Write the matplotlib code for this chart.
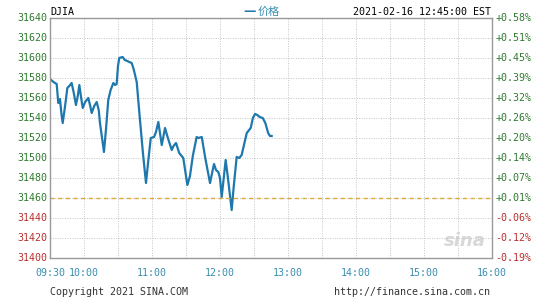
import numpy as np
import matplotlib
matplotlib.use("Agg")
import matplotlib.pyplot as plt

# minutes after 09:30 and DJIA price
minutes = [0, 2, 4.4, 5.9, 7.3, 8.8, 10, 11.2, 13.2, 15.3, 17, 19.1, 21, 22.9, 24.5, 25.9,
           27.5, 28.9, 31, 33.8, 35.5, 36.8, 39, 41.2, 43, 44.1, 47.6, 49.5, 51.4, 53.5,
           55.9, 57.5, 58.8, 60, 61.1, 64.1, 66, 68.2, 70, 72.1, 74, 76.5, 79.4, 82,
           84.7, 86.5, 88.9, 91.8, 93.5, 95.6, 98.6, 101.5, 104, 107.4, 109, 111.2, 114,
           117.6, 121.2, 123.5, 126, 129.4, 131, 133.9, 137, 141.2, 144.7, 146.5, 148.5,
           150, 151.5, 155, 157, 160.3, 162, 164.7, 167, 169.1, 173.6, 177.1, 179,
           180.9, 183, 185, 187.7, 190, 192.5, 194.1, 195.6]
price = [31579, 31577, 31575, 31574, 31555, 31559, 31545, 31535, 31551, 31570, 31572,
         31575, 31565, 31553, 31562, 31573, 31560, 31550, 31556, 31560, 31552, 31545,
         31552, 31556, 31548, 31535, 31506, 31530, 31558, 31568, 31575, 31573, 31574,
         31592, 31600, 31601, 31598, 31597, 31596, 31595, 31588, 31576, 31538, 31505,
         31475, 31495, 31520, 31521, 31526, 31536, 31513, 31530, 31520, 31508, 31512,
         31515, 31505, 31500, 31473, 31482, 31502, 31521, 31520, 31521, 31500, 31475,
         31494, 31488, 31486, 31480, 31461, 31498, 31480, 31448, 31470, 31501, 31500,
         31503, 31525, 31530, 31540, 31544, 31543, 31541, 31540, 31535, 31525, 31522, 31522]

prev_close = 31460
left_ticks = [31400, 31420, 31440, 31460, 31480, 31500, 31520, 31540, 31560, 31580, 31600, 31620, 31640]
pct_labels = ["-0.19%", "-0.12%", "-0.06%", "+0.01%", "+0.07%", "+0.14%", "+0.20%",
              "+0.26%", "+0.32%", "+0.39%", "+0.45%", "+0.51%", "+0.58%"]
time_labels = ["09:30", "10:00", "11:00", "12:00", "13:00", "14:00", "15:00", "16:00"]
time_pos = [0, 30, 90, 150, 210, 270, 330, 390]

green = "#2f7a2f"
red = "#b8302e"
teal = "#3a8db0"
line_c = "#1f78ad"
mono = "DejaVu Sans Mono"
fs = 7.2

fig = plt.figure(figsize=(5.45, 3.0), dpi=100)
ax = fig.add_axes([50/545, 1-258/300, 442/545, 240/300])

ax.plot(minutes, price, color=line_c, lw=1.6, solid_joinstyle="round")
ax.axhline(prev_close, color="#e0aa3a", lw=1, ls=(0, (3, 2.5)))

ax.set_xlim(0, 390)
ax.set_ylim(31400, 31640)
ax.set_xticks(np.arange(0, 391, 30))
ax.set_xticklabels([])
ax.set_yticks(left_ticks)
ax.set_yticklabels([])
ax.tick_params(length=0)
ax.grid(True, color="#c4c4c4", ls=(0, (1, 1.5)), lw=0.7)
for s in ax.spines.values():
    s.set_color("#999999")
    s.set_linewidth(1)

# left price labels and right percentage labels
for v, p in zip(left_ticks, pct_labels):
    c = green if v >= prev_close else red
    ax.text(-0.005, v, str(v), transform=ax.get_yaxis_transform(), ha="right",
            va="center", color=c, family=mono, fontsize=fs)
    ax.text(1.008, v, p, transform=ax.get_yaxis_transform(), ha="left",
            va="center", color=c, family=mono, fontsize=fs)

for t, lab in zip(time_pos, time_labels):
    ax.text(t, -15/240, lab, transform=ax.get_xaxis_transform(), ha="center",
            va="center", color=teal, family=mono, fontsize=fs)

# header and footer
fig.text(50/545, 1-12/300, "DJIA", ha="left", va="center", family=mono, fontsize=fs)
fig.text(243/545, 1-12/300, "\u2014", ha="left", va="center", color=line_c,
         fontsize=9, fontweight="bold")
fig.text(258/545, 1-12/300, "价格", ha="left", va="center", color=teal,
         family=["Noto Sans CJK SC", "DejaVu Sans"], fontsize=8)
fig.text(491/545, 1-12/300, "2021-02-16 12:45:00 EST", ha="right", va="center",
         family=mono, fontsize=fs)
fig.text(50/545, 1-292/300, "Copyright 2021 SINA.COM", ha="left", va="center",
         family=mono, fontsize=fs, color="#333333")
fig.text(490/545, 1-292/300, "http://finance.sina.com.cn", ha="right", va="center",
         family=mono, fontsize=fs, color="#333333")
# faint watermark
ax.text(0.985, 0.07, "sina", transform=ax.transAxes, ha="right", va="center",
        fontsize=13, style="italic", fontweight="bold", color="#d8d8d8", zorder=0)

fig.savefig("out.png", dpi=100)
